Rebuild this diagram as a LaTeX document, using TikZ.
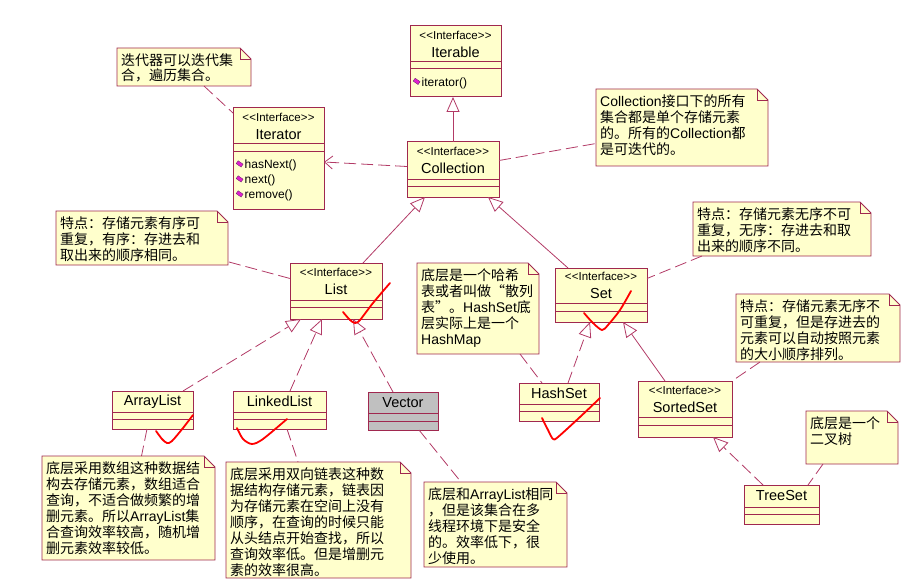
\documentclass[tikz,border=0pt]{standalone}
\usepackage{fontspec}
\setmainfont{Liberation Sans}
\newfontfamily\cjk{Noto Sans CJK SC}
\usetikzlibrary{arrows.meta,positioning,calc,backgrounds}

\definecolor{umlborder}{HTML}{A0284F}
\definecolor{umlline}{HTML}{B23A66}
\definecolor{umlfill}{HTML}{FFFFCC}
\definecolor{vecgray}{HTML}{C0C0C0}
\definecolor{iconpink}{HTML}{E020D0}
\definecolor{icondark}{HTML}{602060}

\newcommand\stereo{{\fontsize{11.5}{12}\selectfont<\kern0.3pt<Interface>\kern0.3pt>}}
\newcommand\en[1]{{\normalfont\fontsize{14}{16}\selectfont #1}}
\newcommand\opicon{\tikz[baseline=-5pt]\filldraw[draw=icondark, fill=iconpink, line width=0.3pt, rotate=-35] (0pt,0pt) rectangle (6pt,3.5pt);\hspace{1.5pt}}

\begin{document}
\begin{tikzpicture}[
        x=1pt, y=-1pt,
        cls/.style={draw=umlborder, fill=umlfill, line width=1pt, inner sep=0pt, outer sep=0pt, anchor=north west, align=center, font=\fontsize{14.5}{16}\selectfont},
        comp/.style={draw=umlborder, fill=umlfill, line width=1pt, inner sep=0pt, outer sep=0pt},
        ops/.style={comp, inner xsep=3pt, align=left, font=\fontsize{12}{15}\selectfont},
        notebox/.style={inner sep=0pt, outer sep=0pt, anchor=north west},
        notetext/.style={inner sep=0pt, anchor=north west, align=left, font=\cjk\fontsize{14}{16}\selectfont},
        noteshape/.style={draw=umlborder, fill=umlfill, line width=0.8pt},
        realize/.style={draw=umlline, line width=0.8pt, dash pattern=on 12pt off 5pt, -{Triangle[open, length=15pt, width=13pt]}},
        extend/.style={draw=umlline, line width=0.8pt, -{Triangle[open, length=15pt, width=13pt]}},
        depend/.style={draw=umlline, line width=0.8pt, dash pattern=on 12pt off 5pt, -{Straight Barb[length=8pt, width=13pt]}},
        noteline/.style={draw=umlline, line width=0.8pt, dash pattern=on 12pt off 5pt},
        check/.style={draw=red, line width=1.8pt, line cap=round, line join=round}
    ]
        \useasboundingbox (0,0) rectangle (909,588);

        % interfaces
        \node[cls, minimum width=91, minimum height=36] (iterable) at (410,26) {\stereo\\[2pt]Iterable};
        \node[comp, minimum width=91, minimum height=7, below=0pt of iterable] (iterable-a) {};
        \node[ops, text width=85, minimum height=28, below=0pt of iterable-a] (iterable-o) {\opicon iterator()};

        \node[cls, minimum width=91, minimum height=36] (iterator) at (233,108) {\stereo\\[2pt]Iterator};
        \node[comp, minimum width=91, minimum height=8, below=0pt of iterator] (iterator-a) {};
        \node[ops, text width=85, minimum height=57, below=0pt of iterator-a] (iterator-o) {\opicon hasNext()\\\opicon next()\\\opicon remove()};

        \node[cls, minimum width=92, minimum height=37] (collection) at (407,142) {\stereo\\[2pt]Collection};
        \node[comp, minimum width=92, minimum height=7, below=0pt of collection] (collection-a) {};
        \node[comp, minimum width=92, minimum height=11, below=0pt of collection-a] (collection-o) {};

        \node[cls, minimum width=92, minimum height=37] (list) at (290,263) {\stereo\\[2pt]List};
        \node[comp, minimum width=92, minimum height=7, below=0pt of list] (list-a) {};
        \node[comp, minimum width=92, minimum height=12, below=0pt of list-a] (list-o) {};

        \node[cls, minimum width=92, minimum height=35] (set) at (555,268) {\stereo\\[2pt]Set};
        \node[comp, minimum width=92, minimum height=8, below=0pt of set] (set-a) {};
        \node[comp, minimum width=92, minimum height=11, below=0pt of set-a] (set-o) {};

        \node[cls, minimum width=94, minimum height=36] (sortedset) at (638,381) {\stereo\\[2pt]SortedSet};
        \node[comp, minimum width=94, minimum height=8, below=0pt of sortedset] (sortedset-a) {};
        \node[comp, minimum width=94, minimum height=12, below=0pt of sortedset-a] (sortedset-o) {};

        % classes
        \node[cls, minimum width=81, minimum height=21] (arraylist) at (112,391) {ArrayList};
        \node[comp, minimum width=81, minimum height=7, below=0pt of arraylist] (arraylist-a) {};
        \node[comp, minimum width=81, minimum height=10, below=0pt of arraylist-a] (arraylist-o) {};

        \node[cls, minimum width=93, minimum height=21] (linkedlist) at (233,391) {LinkedList};
        \node[comp, minimum width=93, minimum height=7, below=0pt of linkedlist] (linkedlist-a) {};
        \node[comp, minimum width=93, minimum height=10, below=0pt of linkedlist-a] (linkedlist-o) {};

        \node[cls, fill=vecgray, minimum width=70, minimum height=21] (vector) at (368,392) {Vector};
        \node[comp, fill=vecgray, minimum width=70, minimum height=8, below=0pt of vector] (vector-a) {};
        \node[comp, fill=vecgray, minimum width=70, minimum height=9, below=0pt of vector-a] (vector-o) {};

        \node[cls, minimum width=80, minimum height=21] (hashset) at (519,383) {HashSet};
        \node[comp, minimum width=80, minimum height=7, below=0pt of hashset] (hashset-a) {};
        \node[comp, minimum width=80, minimum height=10, below=0pt of hashset-a] (hashset-o) {};

        \node[cls, minimum width=75, minimum height=22] (treeset) at (744,485) {TreeSet};
        \node[comp, minimum width=75, minimum height=7, below=0pt of treeset] (treeset-a) {};
        \node[comp, minimum width=75, minimum height=10, below=0pt of treeset-a] (treeset-o) {};

        % notes
        \node[notebox, minimum width=134, minimum height=38] (itnote) at (117,48) {};
        \node[notetext] (itnote-t) at ($(itnote.north west)+(4,5)$) {迭代器可以迭代集\\合，遍历集合。};

        \node[notebox, minimum width=172, minimum height=77] (colnote) at (596,89) {};
        \node[notetext] (colnote-t) at ($(colnote.north west)+(4,5)$) {\en{Collection}接口下的所有\\集合都是单个存储元素\\的。所有的\en{Collection}都\\是可迭代的。};

        \node[notebox, minimum width=178, minimum height=54] (setnote) at (693,202) {};
        \node[notetext] (setnote-t) at ($(setnote.north west)+(4,5)$) {特点：存储元素无序不可\\重复，无序：存进去和取\\出来的顺序不同。};

        \node[notebox, minimum width=164, minimum height=68] (ssnote) at (736,294) {};
        \node[notetext] (ssnote-t) at ($(ssnote.north west)+(4,5)$) {特点：存储元素无序不\\可重复，但是存进去的\\元素可以自动按照元素\\的大小顺序排列。};

        \node[notebox, minimum width=122, minimum height=91] (hsnote) at (417,263) {};
        \node[notetext] (hsnote-t) at ($(hsnote.north west)+(4,5)$) {底层是一个哈希\\表或者叫做“散列\\表”。\en{HashSet}底\\层实际上是一个\\\en{HashMap}};

        \node[notebox, minimum width=92, minimum height=53] (tsnote) at (806,411) {};
        \node[notetext] (tsnote-t) at ($(tsnote.north west)+(4,5)$) {底层是一个\\二叉树};

        \node[notebox, minimum width=143, minimum height=85] (vecnote) at (424,482) {};
        \node[notetext] (vecnote-t) at ($(vecnote.north west)+(4,5)$) {底层和\en{ArrayList}相同\\，但是该集合在多\\线程环境下是安全\\的。效率低下，很\\少使用。};

        \node[notebox, minimum width=172, minimum height=54] (listnote) at (56,211) {};
        \node[notetext] (listnote-t) at ($(listnote.north west)+(4,5)$) {特点：存储元素有序可\\重复，有序：存进去和\\取出来的顺序相同。};

        \node[notebox, minimum width=173, minimum height=104] (alnote) at (42,456) {};
        \node[notetext] (alnote-t) at ($(alnote.north west)+(4,5)$) {底层采用数组这种数据结\\构去存储元素，数组适合\\查询，不适合做频繁的增\\删元素。所以\en{ArrayList}集\\合查询效率较高，随机增\\删元素效率较低。};

        \node[notebox, minimum width=185, minimum height=116] (llnote) at (226,462) {};
        \node[notetext] (llnote-t) at ($(llnote.north west)+(4,5)$) {底层采用双向链表这种数\\据结构存储元素，链表因\\为存储元素在空间上没有\\顺序，在查询的时候只能\\从头结点开始查找，所以\\查询效率低。但是增删元\\素的效率很高。};

        \begin{scope}[on background layer]
            \foreach \n in {itnote,colnote,setnote,ssnote,hsnote,tsnote,vecnote,listnote,alnote,llnote} {
                \filldraw[noteshape] (\n.south west) -- (\n.north west) -- ($(\n.north east)+(-11,0)$) -- ($(\n.north east)+(0,11)$) -- (\n.south east) -- cycle;
                \draw[noteshape, fill=none] ($(\n.north east)+(-11,0)$) |- ($(\n.north east)+(0,11)$);
            }
        \end{scope}

        % relations
        \draw[extend] (collection.north) -- (collection.north |- iterable-o.south);
        \draw[depend] ($(collection.west)+(0,6)$) -- ($(iterator-o.north east)+(0,10)$);
        \draw[extend] ($(list.north)+(27,0)$) -- ($(collection-o.south west)+(18,0)$);
        \draw[extend] ($(set.north west)+(13,0)$) -- ($(collection-o.south east)+(-11,0)$);
        \draw[realize] ($(arraylist.north east)+(-10,0)$) -- ($(list-o.south west)+(11,0)$);
        \draw[realize] ($(linkedlist.north west)+(57,0)$) -- ($(list-o.south west)+(32,0)$);
        \draw[realize] ($(vector.north west)+(25,0)$) -- ($(list-o.south west)+(63,0)$);
        \draw[realize] ($(hashset.north west)+(49,0)$) -- ($(set-o.south west)+(35,0)$);
        \draw[extend] ($(sortedset.north west)+(27,0)$) -- ($(set-o.south east)+(-24,0)$);
        \draw[realize] ($(treeset.north west)+(19,0)$) -- ($(sortedset-o.south west)+(75,0)$);

        % note links
        \draw[noteline] ($(itnote.south)+(20,0)$) -- ($(iterator.north west)+(0,5)$);
        \draw[noteline] (collection.east) -- ($(colnote.west)+(0,16)$);
        \draw[noteline] ($(setnote.south west)+(9,0)$) -- ($(set.east)+(0,-7)$);
        \draw[noteline] ($(ssnote.south west)+(24,0)$) -- (sortedset.north east);
        \draw[noteline] ($(hsnote.south east)+(-19,0)$) -- ($(hashset.north west)+(23,0)$);
        \draw[noteline] ($(tsnote.south west)+(17,0)$) -- ($(treeset.north east)+(-11,0)$);
        \draw[noteline] ($(listnote.south east)+(1,-3)$) -- ($(list.west)+(0,-3)$);
        \draw[noteline] ($(arraylist-o.south west)+(35,0)$) -- ($(alnote.north)+(13,0)$);
        \draw[noteline] ($(linkedlist-o.south west)+(54,0)$) -- ($(llnote.north west)+(72,0)$);
        \draw[noteline] ($(vector-o.south east)+(-19,0)$) -- ($(vecnote.north west)+(37,0)$);

        % hand-drawn ticks
        \draw[check] plot[smooth] coordinates {(343,312) (350,320) (355,323) (360,320) (373,303) (390,283)};
        \draw[check] plot[smooth] coordinates {(156,431) (162,439) (167,443) (172,441) (183,428) (193,415)};
        \draw[check] plot[smooth] coordinates {(237,428) (243,439) (252,444) (263,439) (287,419)};
        \draw[check] plot[smooth] coordinates {(584,313) (593,323) (602,330) (608,325) (620,310) (631,291)};
        \draw[check] plot[smooth] coordinates {(542,418) (548,430) (553,439) (558,437) (580,417) (600,398)};
    \end{tikzpicture}
\end{document}
